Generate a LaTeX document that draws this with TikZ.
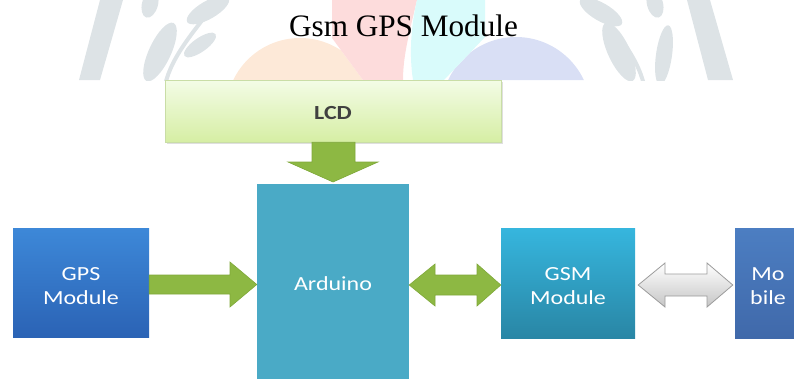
\documentclass[tikz,border=0pt]{standalone}
\usepackage{fontspec}
\setmainfont{Liberation Serif}
\newfontfamily\boxfont{Carlito}[FakeStretch=1.2]
\usetikzlibrary{calc,shadows}
\newcommand\mytoppad{\rule{0pt}{20pt}}
\definecolor{wmgrey}{HTML}{DDE3E6}
\definecolor{wmorange}{HTML}{FDE9D8}
\definecolor{wmpink}{HTML}{FDDCDC}
\definecolor{wmcyan}{HTML}{D9FBFB}
\definecolor{wmlav}{HTML}{D9DFF5}
\definecolor{lcdtop}{HTML}{F3FCE6}
\definecolor{lcdbot}{HTML}{D6EEA4}
\definecolor{lcdline}{HTML}{C9DDA6}
\definecolor{gpstop}{HTML}{3D88D8}
\definecolor{gpsbot}{HTML}{2B63B5}
\definecolor{gsmtop}{HTML}{36B6DE}
\definecolor{gsmbot}{HTML}{2986A5}
\definecolor{mobtop}{HTML}{4C7EC2}
\definecolor{mobbot}{HTML}{4069AA}
\definecolor{ardcol}{HTML}{4AAAC6}
\definecolor{arrgreen}{HTML}{8DB843}
\definecolor{arrgreenline}{HTML}{7FA83A}
\definecolor{arrgreyline}{HTML}{9C9C9C}
\definecolor{lcdtext}{HTML}{404040}
\tikzset{
  blockbox/.style={rectangle, inner sep=0pt, align=center, text=white,
    font=\boxfont\fontsize{20}{24}\selectfont},
  greenarrow/.style={fill=arrgreen, draw=arrgreenline, line width=0.6pt, line join=miter},
  greyarrow/.style={top color=white, bottom color=gray!45, draw=arrgreyline, line width=0.8pt},
  wmleaf/.style={fill=wmgrey}
}
\begin{document}
\begin{tikzpicture}[x=1pt,y=-1pt]
\useasboundingbox (0,0) rectangle (794,378);
\clip (0,0) rectangle (794,378);
% ---------- watermark ----------
\begin{scope}
  \clip (0,0) rectangle (794,80);
  % orange petal
  \begin{scope}
    \clip (150,0) -- (332,0) -- (332,38) -- (363,80) -- (150,80) -- cycle;
    \fill[wmorange] (300,112) circle (74);
  \end{scope}
  % lavender petal
  \begin{scope}
    \clip (485,0) -- (700,0) -- (700,80) -- (444,80) -- (485,37) -- cycle;
    \fill[wmlav] (516,112) circle (75);
  \end{scope}
  % pink flame
  \fill[wmpink] (332,0) -- (417,0) .. controls (410,30) and (403,55) .. (403,80)
     -- (363,80) -- (332,38) -- cycle;
  % cyan flame
  \fill[wmcyan] (417,0) -- (485,0) -- (485,37) -- (444,80) -- (413,80)
     .. controls (409,55) and (411,25) .. (417,0) -- cycle;
  % left branch
  \fill[wmleaf] (100,0) -- (123,0) -- (100,80) -- (79,80) -- cycle;
  \draw[wmgrey, line width=4pt] (222,-5) .. controls (195,30) and (172,55) .. (165,85);
  \fill[wmleaf, rotate around={-25:(160,52)}] (160,52) ellipse (11 and 32);
  \fill[wmleaf, rotate around={35:(200,45)}] (200,45) ellipse (19 and 7);
  \fill[wmleaf, rotate around={30:(208,10)}] (208,10) ellipse (24 and 9);
  \fill[wmleaf, rotate around={-15:(150,4)}] (150,4) ellipse (8 and 14);
  % right branch
  \fill[wmleaf] (687,0) -- (710,0) -- (733,80) -- (708,80) -- cycle;
  \draw[wmgrey, line width=4pt] (587,-5) .. controls (614,30) and (637,55) .. (644,85);
  \fill[wmleaf, rotate around={25:(619,52)}] (619,52) ellipse (11 and 32);
  \fill[wmleaf, rotate around={-8:(664,55)}] (664,55) ellipse (8 and 30);
  \fill[wmleaf, rotate around={-30:(601,12)}] (601,12) ellipse (24 and 9);
  \fill[wmleaf, rotate around={15:(655,4)}] (655,4) ellipse (8 and 14);
\end{scope}
% ---------- title ----------
\node[anchor=base, inner sep=0pt, font=\fontsize{31.2}{36}\selectfont] (title) at (403.5,36) {Gsm GPS Module};
% ---------- boxes ----------
\node[blockbox, minimum width=336pt, minimum height=62pt, top color=lcdtop, bottom color=lcdbot,
      draw=lcdline, line width=0.5pt, text=lcdtext, font=\boxfont\bfseries\fontsize{20}{24}\selectfont,
      drop shadow={shadow xshift=1.5pt, shadow yshift=-1.5pt, opacity=0.25}]
      (lcd) at (333,111) {\rule{0pt}{17pt}LCD};
\node[blockbox, minimum width=152pt, minimum height=200pt, fill=ardcol] (ard) at (333,284) {Arduino};
\node[blockbox, minimum width=136pt, minimum height=109pt, top color=gpstop, bottom color=gpsbot]
      (gps) at (81,282.5) {\mytoppad GPS\\Module};
\node[blockbox, minimum width=134pt, minimum height=110pt, top color=gsmtop, bottom color=gsmbot]
      (gsm) at (568,283) {\mytoppad GSM\\Module};
\node[blockbox, minimum width=66pt, minimum height=110pt, top color=mobtop, bottom color=mobbot]
      (mob) at (768,283) {\mytoppad Mo\\bile};
% ---------- arrows ----------
% LCD -> Arduino
\draw[greenarrow] (312,0 |- lcd.south) -- (312,162) -- (288,162) -- (ard.north |- 0,182)
   -- (378,162) -- (355,162) -- (355,0 |- lcd.south) -- cycle;
% GPS -> Arduino
\draw[greenarrow] (gps.east |- 0,275) -- (230,275) -- (230,262) -- (ard.west |- 0,284.5)
   -- (230,307) -- (230,294) -- (gps.east |- 0,294) -- cycle;
% Arduino <-> GSM
\draw[greenarrow] (ard.east |- 0,285) -- (435,264) -- (435,275) -- (477,275) -- (477,264)
   -- (gsm.west |- 0,285) -- (477,306) -- (477,295) -- (435,295) -- (435,306) -- cycle;
% GSM <-> Mobile
\draw[greyarrow] ($(gsm.east |- 0,285)+(3,0)$) -- (665,263) -- (665,274) -- (707,274) -- (707,263)
   -- ($(mob.west |- 0,285)+(-2,0)$) -- (707,307) -- (707,296) -- (665,296) -- (665,307) -- cycle;
\end{tikzpicture}
\end{document}
